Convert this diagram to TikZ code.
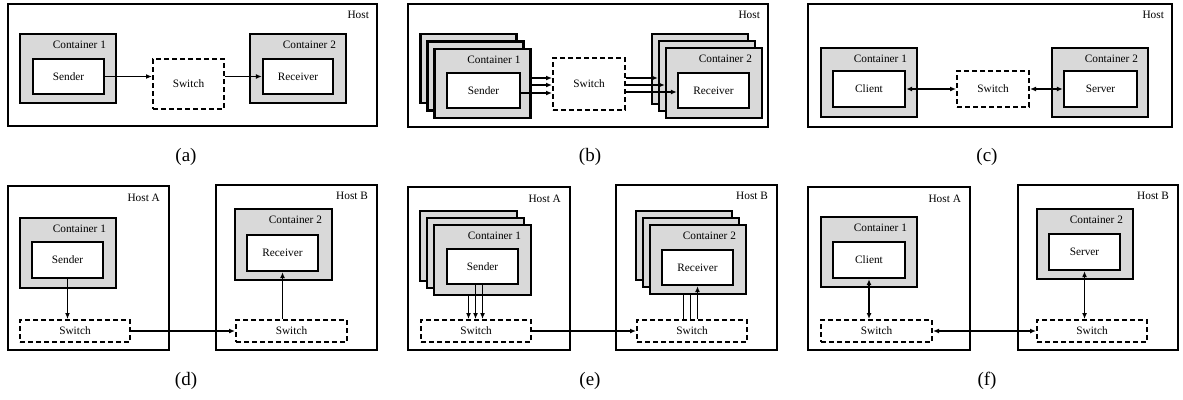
\documentclass[tikz,border=0pt]{standalone}
\usepackage{fontspec}
\setmainfont{Liberation Serif}
\usetikzlibrary{arrows.meta}

\begin{document}
\begin{tikzpicture}[x=1pt, y=-1pt,
		>={Latex[length=6pt,width=5pt]},
		every node/.style={font=\fontsize{11.3}{13}\selectfont},
		host/.style={draw, line width=2.2pt, inner sep=0pt},
		cont/.style={draw, line width=2.2pt, fill=black!15, inner sep=0pt},
		app/.style={draw, line width=2.4pt, fill=white, inner sep=0pt},
		switch/.style={draw, line width=2pt, dash pattern=on 5pt off 3pt, fill=white, inner sep=0pt},
		link/.style={line width=1.8pt},
		tag/.style={anchor=east, inner sep=0pt},
		caption/.style={font=\fontsize{19}{22}\selectfont}]
		\useasboundingbox (0,0) rectangle (1183,399);
		
		% (a) one host, sender -> switch -> receiver
		\node[host, minimum width=369pt, minimum height=122pt] (A_host) at (192.5,65) {};
		\node[tag] (A_hostlbl) at ([xshift=-9pt,yshift=-12pt]A_host.north east) {Host};
		\node[cont, minimum width=96pt, minimum height=69pt] (A_c1) at (68,68.5) {};
		\node[tag] (A_c1lbl) at ([xshift=-11pt,yshift=-12pt]A_c1.north east) {Container 1};
		\node[app, minimum width=71pt, minimum height=35pt] (A_snd) at (68.5,76.5) {Sender};
		\node[switch, minimum width=71pt, minimum height=50pt] (A_sw) at (188.5,84) {Switch};
		\node[cont, minimum width=96pt, minimum height=69pt] (A_c2) at (298,68.5) {};
		\node[tag] (A_c2lbl) at ([xshift=-11pt,yshift=-12pt]A_c2.north east) {Container 2};
		\node[app, minimum width=70pt, minimum height=35pt] (A_rcv) at (298,76.5) {Receiver};
		\draw[link,->] (A_snd.east) -- (A_snd.east -| A_sw.west);
		\draw[link,->] (A_sw.east |- A_rcv.west) -- (A_rcv.west);
		\node[caption] (A_cap) at (186,157) {(a)};
		
		% (b) one host, stacked containers
		\node[host, minimum width=360pt, minimum height=123pt] (B_host) at (588,65.5) {};
		\node[tag] (B_hostlbl) at ([xshift=-9pt,yshift=-12pt]B_host.north east) {Host};
		\foreach \k in {0,1,2}
			\node[cont, minimum width=96pt, minimum height=69pt] (B_c1-\k) at (468.5+7*\k,68.5+7.5*\k) {};
		\node[tag] (B_c1lbl) at ([xshift=-11pt,yshift=-12pt]B_c1-2.north east) {Container 1};
		\node[app, minimum width=73pt, minimum height=35pt] (B_snd) at (483.5,90.5) {Sender};
		\node[switch, minimum width=72pt, minimum height=52pt] (B_sw) at (589,84) {Switch};
		\foreach \k in {0,1,2}
			\node[cont, minimum width=96pt, minimum height=70pt] (B_c2-\k) at (700+7*\k,69+7*\k) {};
		\node[tag] (B_c2lbl) at ([xshift=-11pt,yshift=-12pt]B_c2-2.north east) {Container 2};
		\node[app, minimum width=71pt, minimum height=35pt] (B_rcv) at (713.5,90.5) {Receiver};
		
		\coordinate (B_in1) at ([yshift=6pt]B_sw.west);
		\coordinate (B_in2) at ([yshift=-1pt]B_sw.west);
		\coordinate (B_in3) at ([yshift=-9pt]B_sw.west);
		\draw[link,->] (B_c1-2.east |- B_in1) -- (B_in1);
		\draw[link,->] (B_c1-2.east |- B_in2) -- (B_in2);
		\draw[link,->] (B_snd.east |- B_in3) -- (B_in3);
		
		\coordinate (B_out1) at ([yshift=6pt]B_sw.east);
		\coordinate (B_out2) at ([yshift=-1pt]B_sw.east);
		\coordinate (B_out3) at ([yshift=-8pt]B_sw.east);
		\draw[link,->] (B_out1) -- (B_out1 -| B_c2-1.west);
		\draw[link,->] (B_out2) -- (B_out2 -| B_c2-2.west);
		\draw[link,->] (B_out3) -- (B_out3 -| B_rcv.west);
		\node[caption] (B_cap) at (590,157) {(b)};
		
		% (c) one host, client <-> switch <-> server
		\node[host, minimum width=364pt, minimum height=123pt] (C_host) at (990,65.5) {};
		\node[tag] (C_hostlbl) at ([xshift=-9pt,yshift=-12pt]C_host.north east) {Host};
		\node[cont, minimum width=96pt, minimum height=69pt] (C_c1) at (869,82.5) {};
		\node[tag] (C_c1lbl) at ([xshift=-11pt,yshift=-12pt]C_c1.north east) {Container 1};
		\node[app, minimum width=72pt, minimum height=36pt] (C_cli) at (869,89) {Client};
		\node[switch, minimum width=72pt, minimum height=36pt] (C_sw) at (993,89) {Switch};
		\node[cont, minimum width=96pt, minimum height=69pt] (C_c2) at (1100,82.5) {};
		\node[tag] (C_c2lbl) at ([xshift=-11pt,yshift=-12pt]C_c2.north east) {Container 2};
		\node[app, minimum width=73pt, minimum height=36pt] (C_srv) at (1100.5,89) {Server};
		\draw[link,<->] (C_cli.east) -- (C_sw.west);
		\draw[link,<->] (C_sw.east) -- (C_srv.west);
		\node[caption] (C_cap) at (987,157) {(c)};
		
		% (d) two hosts, one switch each
		\node[host, minimum width=161pt, minimum height=164pt] (D_hostA) at (88.5,268) {};
		\node[tag] (D_hostAlbl) at ([xshift=-10pt,yshift=-13pt]D_hostA.north east) {Host A};
		\node[host, minimum width=161pt, minimum height=165pt] (D_hostB) at (296.5,267.5) {};
		\node[tag] (D_hostBlbl) at ([xshift=-10pt,yshift=-12pt]D_hostB.north east) {Host B};
		\node[cont, minimum width=96pt, minimum height=70pt] (D_c1) at (68,253) {};
		\node[tag] (D_c1lbl) at ([xshift=-11pt,yshift=-12pt]D_c1.north east) {Container 1};
		\node[app, minimum width=71pt, minimum height=36pt] (D_snd) at (67.5,260) {Sender};
		\node[switch, minimum width=110pt, minimum height=22pt] (D_swA) at (75,331) {Switch};
		\node[cont, minimum width=97pt, minimum height=71pt] (D_c2) at (283.5,244.5) {};
		\node[tag] (D_c2lbl) at ([xshift=-11pt,yshift=-12pt]D_c2.north east) {Container 2};
		\node[app, minimum width=71pt, minimum height=36pt] (D_rcv) at (282.5,253) {Receiver};
		\node[switch, minimum width=111pt, minimum height=22pt] (D_swB) at (291.5,331) {Switch};
		\draw[link,->] (D_snd.south) -- (D_snd.south |- D_swA.north);
		\draw[link,->] (D_swA.east) -- (D_swB.west);
		\draw[link,->] (D_rcv.south |- D_swB.north) -- (D_rcv.south);
		\node[caption] (D_cap) at (186,381) {(d)};
		
		% (e) two hosts, stacked containers
		\node[host, minimum width=162pt, minimum height=163pt] (E_hostA) at (489,268.5) {};
		\node[tag] (E_hostAlbl) at ([xshift=-10pt,yshift=-13pt]E_hostA.north east) {Host A};
		\node[host, minimum width=161pt, minimum height=165pt] (E_hostB) at (696.5,267.5) {};
		\node[tag] (E_hostBlbl) at ([xshift=-10pt,yshift=-12pt]E_hostB.north east) {Host B};
		\foreach \k in {0,1,2}
			\node[cont, minimum width=97pt, minimum height=70pt] (E_c1-\k) at (468.5+7*\k,246+7*\k) {};
		\node[tag] (E_c1lbl) at ([xshift=-11pt,yshift=-12pt]E_c1-2.north east) {Container 1};
		\node[app, minimum width=71pt, minimum height=35pt] (E_snd) at (482.5,266.5) {Sender};
		\node[switch, minimum width=110pt, minimum height=22pt] (E_swA) at (476,331) {Switch};
		\foreach \k in {0,1,2}
			\node[cont, minimum width=96pt, minimum height=69pt] (E_c2-\k) at (684+7*\k,245.5+7*\k) {};
		\node[tag] (E_c2lbl) at ([xshift=-11pt,yshift=-12pt]E_c2-2.north east) {Container 2};
		\node[app, minimum width=71pt, minimum height=35pt] (E_rcv) at (697.5,267.5) {Receiver};
		\node[switch, minimum width=110pt, minimum height=22pt] (E_swB) at (692,331) {Switch};
		
		\coordinate (E_out1) at ([xshift=-14pt]E_snd.south);
		\coordinate (E_out2) at ([xshift=-7pt]E_snd.south);
		\coordinate (E_out3) at (E_snd.south);
		\draw[link,->] (E_out1 |- E_c1-2.south) -- (E_out1 |- E_swA.north);
		\draw[link,->] (E_out2) -- (E_out2 |- E_swA.north);
		\draw[link,->] (E_out3) -- (E_out3 |- E_swA.north);
		
		\coordinate (E_in1) at ([xshift=-14pt]E_rcv.south);
		\coordinate (E_in2) at ([xshift=-7pt]E_rcv.south);
		\coordinate (E_in3) at (E_rcv.south);
		\draw[link] (E_in1 |- E_swB.north) -- (E_in1 |- E_c2-2.south);
		\draw[link] (E_in2 |- E_swB.north) -- (E_in2 |- E_c2-2.south);
		\draw[link,->] (E_in3 |- E_swB.north) -- (E_in3);
		\draw[link,->] (E_swA.east) -- (E_swB.west);
		\node[caption] (E_cap) at (590,381) {(e)};
		
		% (f) two hosts, client <-> server
		\node[host, minimum width=162pt, minimum height=163pt] (F_hostA) at (889,268.5) {};
		\node[tag] (F_hostAlbl) at ([xshift=-10pt,yshift=-13pt]F_hostA.north east) {Host A};
		\node[host, minimum width=160pt, minimum height=165pt] (F_hostB) at (1098,267.5) {};
		\node[tag] (F_hostBlbl) at ([xshift=-10pt,yshift=-12pt]F_hostB.north east) {Host B};
		\node[cont, minimum width=96pt, minimum height=70pt] (F_c1) at (869,252) {};
		\node[tag] (F_c1lbl) at ([xshift=-11pt,yshift=-12pt]F_c1.north east) {Container 1};
		\node[app, minimum width=72pt, minimum height=36pt] (F_cli) at (869,260) {Client};
		\node[switch, minimum width=111pt, minimum height=22pt] (F_swA) at (876.5,331) {Switch};
		\node[cont, minimum width=96pt, minimum height=70pt] (F_c2) at (1085,244) {};
		\node[tag] (F_c2lbl) at ([xshift=-11pt,yshift=-12pt]F_c2.north east) {Container 2};
		\node[app, minimum width=71pt, minimum height=36pt] (F_srv) at (1084.5,252) {Server};
		\node[switch, minimum width=110pt, minimum height=22pt] (F_swB) at (1092,331) {Switch};
		\draw[link,<->] (F_cli.south) -- (F_cli.south |- F_swA.north);
		\draw[link,<->] (F_swA.east) -- (F_swB.west);
		\draw[link,<->] (F_srv.south) -- (F_srv.south |- F_swB.north);
		\node[caption] (F_cap) at (987,381) {(f)};
	\end{tikzpicture}
\end{document}
